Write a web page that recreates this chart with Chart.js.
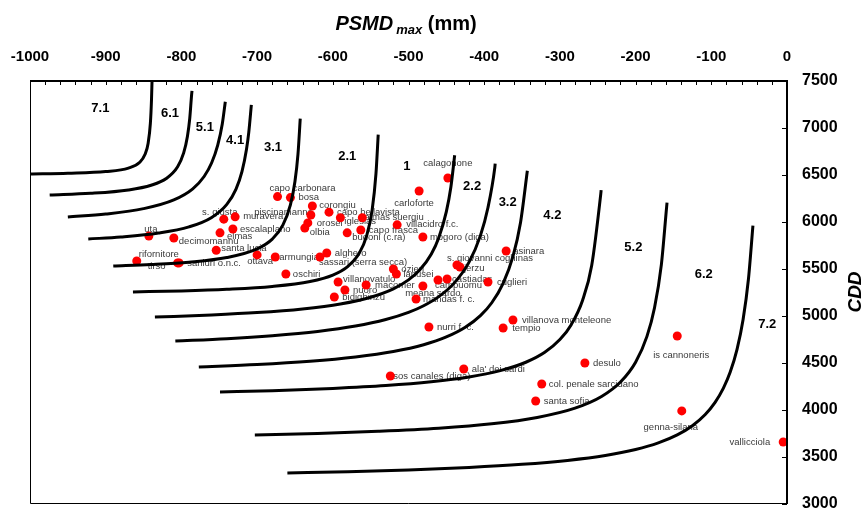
<!DOCTYPE html>
<html>
<head>
<meta charset="utf-8">
<script src="https://cdn.jsdelivr.net/npm/chart.js@4.4.1/dist/chart.umd.min.js"></script>
<style>
  body { margin: 0; background: #fff; }
  canvas { display: block; }
</style>
</head>
<body>
<canvas id="chart" width="866" height="510"></canvas>
<script>
  'use strict';

  // Stations: name, PSMD max (mm) and CDD
  const stations = ['capo carbonara', 'bosa', 'corongiu', 'piscinamanna', 'capo bellavista', 'iglesias',
    'palmas suergiu', 'villacidro f.c.', 'orosei', 'olbia', 'capo frasca', 'budoni (c.ra)', 'escalaplano',
    'elmas', 'muravera', 's. giusta', 'uta', 'decimomannu', 'santa lucia', 'rifornitore', 'tirso',
    'sanluri o.n.c.', 'ottava', 'armungia', 'alghero', 'sassari (serra secca)', 'oschiri', 'villanovatulo',
    'nuoro', 'bidighinzu', 'macomer', 'ozieri', 'lanusei', 'meana sardo', 'campuomu', 'castiadas',
    'mandas f. c.', 'nurri f. c.', 'sos canales (diga)', "ala' dei sardi", 's. giovanni coghinas', 'jerzu',
    'asinara', 'cuglieri', 'villanova monteleone', 'tempio', 'desulo', 'col. penale sarcidano',
    'santa sofia', 'is cannoneris', 'genna-silana', 'vallicciola', 'calagonone', 'carloforte', 'mogoro (diga)'];

  const psmd = [-673, -656, -627, -629, -605, -590, -561, -515, -633, -637, -563, -581, -732, -749, -729,
    -744, -843, -810, -754, -859, -805, -803, -700, -676, -608, -617, -662, -593, -584, -598, -556, -520,
    -516, -481, -461, -449, -490, -473, -524, -427, -436, -432, -371, -395, -362, -375, -267, -324, -332,
    -145, -139, -5, -448, -486, -481];

  const cdd = [6270, 6260, 6170, 6075, 6105, 6045, 6045, 5970, 5990, 5935, 5915, 5885, 5925, 5885, 6055,
    6030, 5850, 5830, 5700, 5585, 5565, 5565, 5650, 5628, 5670, 5628, 5447, 5362, 5277, 5202, 5330, 5500,
    5447, 5319, 5383, 5394, 5181, 4883, 4362, 4436, 5543, 5521, 5691, 5362, 4957, 4872, 4500, 4277, 4096,
    4787, 3990, 3660, 6468, 6330, 5840];

  // Class labels between the boundaries
  const classNames = ['7.1', '6.1', '5.1', '4.1', '3.1', '2.1', '1', '2.2', '3.2', '4.2', '5.2', '6.2', '7.2'];
  const classPsmd = [-907, -815, -769, -729, -679, -581, -502, -416, -369, -310, -203, -110, -26];
  const classCdd = [7213, 7160, 7011, 6872, 6798, 6702, 6596, 6383, 6213, 6074, 5734, 5447, 4915];

  // Class boundaries [PSMD, CDD]
  const b71 = [[-1000, 6510], [-950, 6518], [-900, 6536], [-870, 6573], [-855, 6636], [-848, 6720],
    [-844, 6836], [-841, 7049], [-839.5, 7301], [-838.8, 7500]];
  const b61 = [[-974, 6287], [-920, 6305], [-870, 6341], [-840, 6391], [-820, 6463], [-805, 6588],
    [-797, 6735], [-792, 6913], [-789, 7099], [-786.5, 7355], [-786, 7395]];
  const b51 = [[-950, 6053], [-900, 6085], [-850, 6142], [-810, 6235], [-785, 6353], [-770, 6484],
    [-760, 6630], [-752, 6818], [-746, 7043], [-742, 7280]];
  const b41 = [[-923, 5819], [-880, 5841], [-830, 5883], [-790, 5948], [-760, 6049], [-740, 6188],
    [-728, 6348], [-720, 6536], [-714, 6774], [-711, 6953], [-707.6, 7245]];
  const b31 = [[-890, 5532], [-840, 5548], [-790, 5573], [-740, 5622], [-700, 5714], [-680, 5818],
    [-666, 5966], [-656, 6181], [-650, 6430], [-646, 6721], [-643, 7100]];
  const b21 = [[-864, 5256], [-800, 5267], [-740, 5284], [-680, 5314], [-630, 5367], [-600, 5435],
    [-580, 5528], [-565, 5669], [-555, 5861], [-548, 6129], [-543, 6513], [-540, 6930]];
  const b1 = [[-835, 4989], [-760, 5011], [-700, 5036], [-640, 5075], [-590, 5128], [-550, 5200],
    [-520, 5289], [-500, 5384], [-485, 5491], [-470, 5658], [-460, 5833], [-450, 6111], [-444, 6373],
    [-439, 6710]];
  const b22 = [[-808, 4734], [-740, 4759], [-680, 4791], [-620, 4836], [-570, 4893], [-530, 4962],
    [-500, 5038], [-480, 5109], [-460, 5206], [-440, 5347], [-420, 5573], [-405, 5855], [-395, 6154],
    [-386, 6578], [-385.5, 6620]];
  const b32 = [[-777, 4457], [-700, 4483], [-630, 4518], [-570, 4564], [-520, 4622], [-480, 4694],
    [-450, 4777], [-425, 4880], [-405, 5004], [-390, 5141], [-375, 5348], [-362, 5634], [-352, 5995],
    [-343, 6545]];
  const b42 = [[-749, 4192], [-680, 4206], [-600, 4230], [-530, 4260], [-470, 4300], [-420, 4351],
    [-380, 4416], [-345, 4508], [-320, 4614], [-300, 4749], [-285, 4908], [-270, 5168], [-258, 5538],
    [-246, 6300], [-245.5, 6340]];
  const b52 = [[-703, 3734], [-620, 3750], [-540, 3773], [-460, 3806], [-390, 3853], [-330, 3921],
    [-280, 4020], [-245, 4144], [-220, 4298], [-200, 4509], [-185, 4783], [-175, 5088], [-166, 5544],
    [-159, 6162], [-158.5, 6205]];
  const b62 = [[-660, 3330], [-580, 3344], [-500, 3363], [-420, 3389], [-350, 3422], [-290, 3464],
    [-240, 3516], [-200, 3580], [-170, 3650], [-145, 3735], [-125, 3833], [-108, 3952], [-95, 4081],
    [-84, 4232], [-75, 4403], [-66, 4645], [-58, 4963], [-51, 5388], [-45, 5962]];

  // Where each station label sits relative to its point (px), kept apart from the data
  const labelPos = [[-8, -8, 'left'], [8, 0, 'left'], [7, -1, 'left'], [2, -3, 'right'], [8, 0, 'left'],
    [4, 4, 'left'], [-3, 0, 'left'], [9, 0, 'left'], [9, 0, 'left'], [5, 4, 'left'], [8, 0, 'left'],
    [5, 5, 'left'], [7, 0, 'left'], [7, 4, 'left'], [8, 0, 'left'], [-4, -7, 'center'], [2, -7, 'center'],
    [5, 3, 'left'], [5, -2, 'left'], [2, -7, 'left'], [-12, 3, 'right'], [8, 0, 'left'], [3, 6, 'center'],
    [4, 0, 'left'], [8, 0, 'left'], [-1, 5, 'left'], [7, 0, 'left'], [5, -3, 'left'], [8, 0, 'left'],
    [8, 0, 'left'], [9, 0, 'left'], [8, 0, 'left'], [7, 0, 'left'], [10, 7, 'center'], [-3, 5, 'left'],
    [5, 0, 'left'], [7, 0, 'left'], [8, 0, 'left'], [3, 0, 'left'], [8, 0, 'left'], [-10, -7, 'left'],
    [4, 1, 'left'], [7, 0, 'left'], [9, 0, 'left'], [9, 0, 'left'], [9, 0, 'left'], [8, 0, 'left'],
    [7, 0, 'left'], [8, 0, 'left'], [4, 19, 'center'], [-11, 16, 'center'], [-13, 0, 'right'],
    [0, -15, 'center'], [-5, 12, 'center'], [7, 0, 'left']];

  const FONT = '"Liberation Sans", Arial, sans-serif';
  const boundaries = [b71, b61, b51, b41, b31, b21, b1, b22, b32, b42, b52, b62];

  const toPoints = function (arr) {
    return arr.map(function (p) { return { x: p[0], y: p[1] }; });
  };

  const datasets = boundaries.map(function (b) {
    return {
      data: toPoints(b),
      showLine: true,
      borderColor: '#000',
      borderWidth: 3,
      pointRadius: 0,
      cubicInterpolationMode: 'monotone',
      fill: false
    };
  });

  const stationIndex = datasets.length;
  datasets.push({
    data: psmd.map(function (v, i) { return { x: v, y: cdd[i] }; }),
    backgroundColor: '#ff0000',
    borderWidth: 0,
    pointRadius: 4.5
  });

  // Labels under the curves and points
  const labelsPlugin = {
    id: 'labels',
    beforeDatasetsDraw: function (chart) {
      const ctx = chart.ctx;
      const xs = chart.scales.x, ys = chart.scales.y;
      ctx.save();
      ctx.textBaseline = 'middle';

      ctx.font = '9.5px ' + FONT;
      ctx.fillStyle = '#3a3a3a';
      const pts = chart.getDatasetMeta(stationIndex).data;
      stations.forEach(function (name, i) {
        const lp = labelPos[i];
        ctx.textAlign = lp[2];
        ctx.fillText(name, pts[i].x + lp[0], pts[i].y + lp[1]);
      });

      ctx.font = 'bold 13px ' + FONT;
      ctx.fillStyle = '#000';
      ctx.textAlign = 'center';
      classNames.forEach(function (c, i) {
        ctx.fillText(c, xs.getPixelForValue(classPsmd[i]), ys.getPixelForValue(classCdd[i]));
      });
      ctx.restore();
    },
    afterDatasetsDraw: function (chart) {
      const ctx = chart.ctx;
      const a = chart.chartArea;
      const xs = chart.scales.x, ys = chart.scales.y;
      ctx.save();
      ctx.strokeStyle = '#000';

      // thin left and bottom edges
      ctx.lineWidth = 1;
      ctx.beginPath();
      ctx.moveTo(a.left + 0.5, a.top);
      ctx.lineTo(a.left + 0.5, a.bottom - 0.5);
      ctx.lineTo(a.right, a.bottom - 0.5);
      ctx.stroke();

      // top and right axes
      ctx.lineWidth = 2;
      ctx.beginPath();
      ctx.moveTo(a.left, a.top);
      ctx.lineTo(a.right, a.top);
      ctx.lineTo(a.right, a.bottom);
      ctx.stroke();

      // inward tick marks
      ctx.lineWidth = 1;
      ctx.beginPath();
      for (let v = -1000; v <= 0; v += 20) {
        const px = Math.round(xs.getPixelForValue(v)) + 0.5;
        ctx.moveTo(px, a.top);
        ctx.lineTo(px, a.top + 4);
      }
      for (let v = 3000; v <= 7500; v += 500) {
        const py = Math.round(ys.getPixelForValue(v)) + 0.5;
        ctx.moveTo(a.right, py);
        ctx.lineTo(a.right - 5, py);
      }
      ctx.stroke();
      ctx.restore();
    },
    afterDraw: function (chart) {
      const ctx = chart.ctx;
      ctx.save();
      ctx.fillStyle = '#000';
      ctx.textBaseline = 'alphabetic';
      ctx.textAlign = 'left';

      // PSMD max (mm)
      const p1 = 'PSMD', p2 = 'max', p3 = ' (mm)';
      ctx.font = 'italic bold 20px ' + FONT;
      const w1 = ctx.measureText(p1).width;
      ctx.font = 'italic bold 13px ' + FONT;
      const w2 = ctx.measureText(p2).width;
      ctx.font = 'bold 20px ' + FONT;
      const w3 = ctx.measureText(p3).width;
      let x = 406 - (w1 + 3 + w2 + w3) / 2;
      const base = 30;
      ctx.font = 'italic bold 20px ' + FONT;
      ctx.fillText(p1, x, base);
      x += w1 + 3;
      ctx.font = 'italic bold 13px ' + FONT;
      ctx.fillText(p2, x, base + 4);
      x += w2;
      ctx.font = 'bold 20px ' + FONT;
      ctx.fillText(p3, x, base);

      // CDD
      ctx.translate(856, 292);
      ctx.rotate(-Math.PI / 2);
      ctx.textAlign = 'center';
      ctx.textBaseline = 'middle';
      ctx.font = 'italic bold 19px ' + FONT;
      ctx.fillText('CDD', 0, 0);
      ctx.restore();
    }
  };

  const chart = new Chart(document.getElementById('chart'), {
    type: 'scatter',
    data: { datasets: datasets },
    options: {
      responsive: false,
      animation: false,
      devicePixelRatio: 1,
      layout: { padding: { left: 30, right: 0, top: 0, bottom: 6 } },
      plugins: { legend: { display: false }, tooltip: { enabled: false } },
      scales: {
        x: {
          type: 'linear', position: 'top', min: -1000, max: 0,
          grid: { display: false }, border: { display: false },
          ticks: {
            stepSize: 100, color: '#000', padding: 7,
            font: { family: FONT, size: 15, weight: 'bold' },
            callback: function (v) { return String(v); }
          },
          afterFit: function (s) { s.height = 81; s.paddingLeft = 0; s.paddingRight = 0; }
        },
        y: {
          type: 'linear', position: 'right', min: 3000, max: 7500,
          grid: { display: false }, border: { display: false },
          ticks: {
            stepSize: 500, color: '#000', padding: 7,
            font: { family: FONT, size: 16, weight: 'bold' },
            callback: function (v) { return String(v); }
          },
          afterFit: function (s) { s.width = 79; s.paddingTop = 0; s.paddingBottom = 0; }
        }
      }
    },
    plugins: [labelsPlugin]
  });
</script>
</body>
</html>
